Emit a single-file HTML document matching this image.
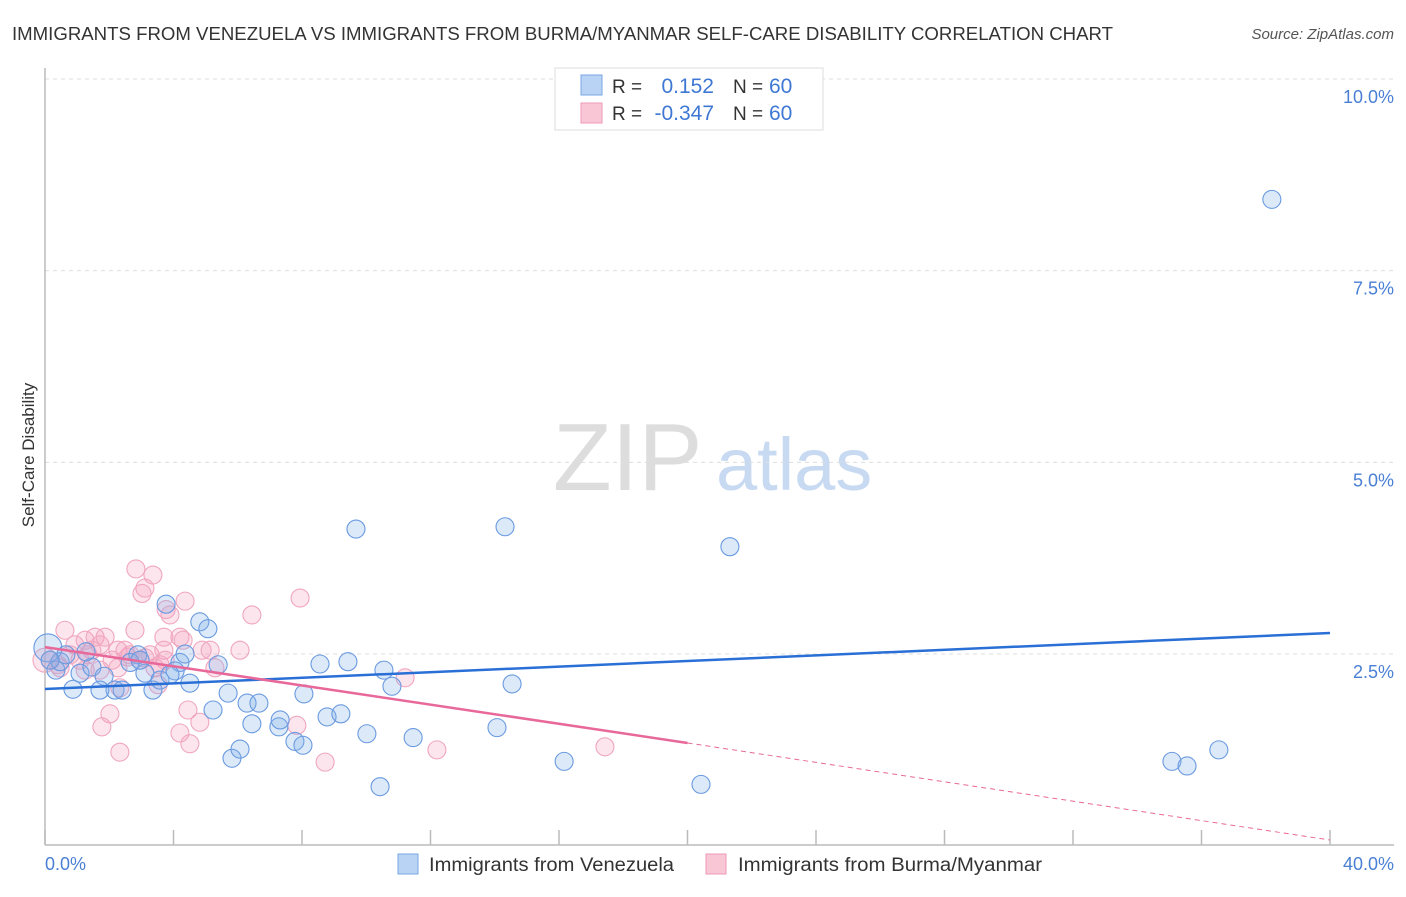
<!DOCTYPE html>
<html><head><meta charset="utf-8">
<style>
body{margin:0;background:#fff;font-family:"Liberation Sans",sans-serif;}
svg text{font-family:"Liberation Sans",sans-serif;}
</style></head>
<body>
<svg id="chart" width="1406" height="892" xmlns="http://www.w3.org/2000/svg">
<text x="12" y="40" font-size="18" fill="#333" textLength="1101" lengthAdjust="spacingAndGlyphs">IMMIGRANTS FROM VENEZUELA VS IMMIGRANTS FROM BURMA/MYANMAR SELF-CARE DISABILITY CORRELATION CHART</text>
<text x="1394" y="39" font-size="15" fill="#555" font-style="italic" text-anchor="end">Source: ZipAtlas.com</text>
<g>
<text x="553" y="490" font-family="Liberation Serif" font-size="96" fill="#ddd">ZIP</text>
<text x="716" y="490" font-size="74" fill="#c8daf2">atlas</text>
</g>
<g id="grid"></g>
<line x1="45" y1="68" x2="45" y2="845" stroke="#bbb" stroke-width="1.5"/>
<line x1="45" y1="845" x2="1394" y2="845" stroke="#bbb" stroke-width="1.5"/>
<g id="ticks"></g>
<text transform="translate(34,455) rotate(-90)" font-size="17" fill="#333" text-anchor="middle">Self-Care Disability</text>
<text x="45" y="870" font-size="18" fill="#4a7fd4">0.0%</text>
<text x="1394" y="870" font-size="18" fill="#4a7fd4" text-anchor="end">40.0%</text>
<g id="pts"></g>
<g id="lines"></g>
<g>
<rect x="555" y="68" width="268" height="62" fill="#fff" stroke="#ddd"/>
<rect x="581" y="75" width="21" height="20" fill="#b9d3f5" stroke="#7aa6e3"/>
<rect x="581" y="103" width="21" height="20" fill="#f9c6d6" stroke="#ee9ab5"/>
<text x="612" y="93" font-size="19" fill="#333">R =</text>
<text x="714" y="93" font-size="21" fill="#3f78d4" text-anchor="end">0.152</text>
<text x="733" y="93" font-size="19" fill="#333">N =</text>
<text x="769" y="93" font-size="21" fill="#3f78d4">60</text>
<text x="612" y="120" font-size="19" fill="#333">R =</text>
<text x="714" y="120" font-size="21" fill="#3f78d4" text-anchor="end">-0.347</text>
<text x="733" y="120" font-size="19" fill="#333">N =</text>
<text x="769" y="120" font-size="21" fill="#3f78d4">60</text>
</g>
<g>
<rect x="398" y="854" width="20" height="20" fill="#b9d3f5" stroke="#7aa6e3"/>
<text x="429" y="871" font-size="19" fill="#333" textLength="245" lengthAdjust="spacingAndGlyphs">Immigrants from Venezuela</text>
</g>
<g>
<rect x="706" y="854" width="20" height="20" fill="#f9c6d6" stroke="#ee9ab5"/>
<text x="738" y="871" font-size="19" fill="#333" textLength="304" lengthAdjust="spacingAndGlyphs">Immigrants from Burma/Myanmar</text>
</g>
</svg>
<script>
const yTicks=[2.5,5.0,7.5,10.0];
const yTickLabels=["2.5%","5.0%","7.5%","10.0%"];
const xTicks=[0,4,8,12,16,20,24,28,32,36,40];
const bx=[38.19,9.68,14.32,21.32,3.77,4.82,5.07,0.09,0.34,0.87,1.09,1.46,1.84,1.28,2.18,2.89,2.65,3.36,3.11,4.20,4.36,4.05,4.51,5.39,5.70,5.23,6.29,6.66,6.44,7.28,7.32,7.78,8.03,8.06,8.56,9.43,8.78,9.21,10.02,10.55,10.80,10.43,11.46,14.07,14.54,16.16,20.42,35.08,35.55,36.54,5.82,6.07,3.58,2.40,0.47,0.65,1.71,2.96,3.89,0.16];
const by=[8.43,4.13,4.16,3.90,3.15,2.92,2.83,2.58,2.29,2.04,2.25,2.33,2.21,2.53,2.03,2.49,2.39,2.03,2.25,2.39,2.50,2.28,2.12,2.36,1.99,1.77,1.86,1.86,1.59,1.55,1.64,1.36,1.31,1.98,2.37,2.40,1.68,1.72,1.46,2.29,2.08,0.77,1.41,1.54,2.11,1.10,0.80,1.10,1.04,1.25,1.14,1.26,2.16,2.03,2.40,2.49,2.03,2.42,2.23,2.42];
const px=[2.83,3.36,3.11,3.02,3.77,3.89,4.36,6.44,7.94,0.62,1.25,1.56,1.87,2.80,4.20,3.70,4.89,3.70,5.14,2.27,0.93,1.71,2.49,0.16,0.40,0.00,1.09,2.09,2.96,3.58,3.27,4.45,4.82,4.20,4.51,2.02,1.77,2.33,3.52,2.33,2.58,7.84,8.72,11.21,12.20,17.43,1.34,0.78,0.47,2.65,3.42,4.30,5.29,1.71,1.25,3.74,3.11,6.07,2.27,1.46];
const py=[3.61,3.53,3.36,3.29,3.08,3.01,3.19,3.01,3.23,2.81,2.68,2.72,2.72,2.81,2.72,2.72,2.55,2.55,2.55,2.55,2.62,2.62,2.55,2.42,2.36,2.42,2.42,2.42,2.42,2.36,2.49,1.77,1.61,1.47,1.33,1.72,1.55,1.22,2.10,2.06,2.46,1.57,1.09,2.19,1.25,1.29,2.49,2.49,2.32,2.49,2.32,2.68,2.32,2.29,2.29,2.42,2.45,2.55,2.32,2.55];
const blueTrend=[2.044,2.774];
const pinkTrend=[2.59,1.34,0.074];
const X=v=>45+v*32.125;
const Y=v=>845.7-v*76.67;
const NS="http://www.w3.org/2000/svg";
function mk(tag,attrs,parent){const e=document.createElementNS(NS,tag);for(const k in attrs)e.setAttribute(k,attrs[k]);document.getElementById(parent).appendChild(e);return e;}
yTicks.forEach((t,i)=>{
  const l=mk('line',{x1:45,x2:1394,y1:Y(t),y2:Y(t),stroke:'#ddd','stroke-dasharray':'4,4'},'grid');
  
  
  const tx=mk('text',{x:1394,y:Y(t)+24,'font-size':18,fill:'#4a7fd4','text-anchor':'end'},'grid');
  tx.textContent=yTickLabels[i];
  
  
});
xTicks.forEach(t=>{
  const l=mk('line',{x1:X(t),x2:X(t),y1:830,y2:845,stroke:'#bbb','stroke-width':1.5},'ticks');
  
  
});
px.forEach((v,i)=>{
  const c=mk('circle',{cx:X(v),cy:Y(py[i]),r:i===25?12:9,fill:'rgba(244,160,190,0.28)',stroke:'#f0a6bf','stroke-width':1.1},'pts');
  
  
});
bx.forEach((v,i)=>{
  const c=mk('circle',{cx:X(v),cy:Y(by[i]),r:i===7?14:9,fill:'rgba(130,175,232,0.28)',stroke:'#6a9ae0','stroke-width':1.1},'pts');
  
  
});
const bl=mk('line',{x1:X(0),y1:Y(blueTrend[0]),x2:X(40),y2:Y(blueTrend[1]),stroke:'#2a6fd6','stroke-width':2.5},'lines');


const pl=mk('line',{x1:X(0),y1:Y(pinkTrend[0]),x2:X(20),y2:Y(pinkTrend[1]),stroke:'#e8689a','stroke-width':2.5},'lines');


const pd=mk('line',{x1:X(20),y1:Y(pinkTrend[1]),x2:X(40),y2:Y(pinkTrend[2]),stroke:'#e8689a','stroke-width':1,'stroke-dasharray':'5,4'},'lines');


</script>
</body></html>
